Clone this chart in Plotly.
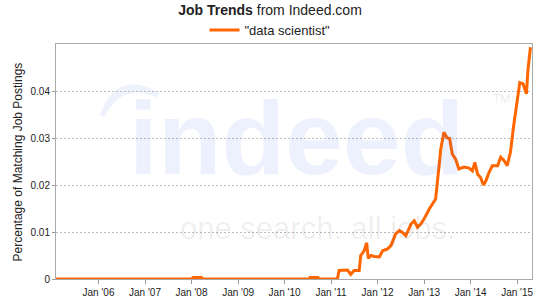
import plotly.graph_objects as go

series_name = '"data scientist"'
dates = [
    "2005-02-01", "2007-12-31", "2008-01-15", "2008-03-20", "2008-04-01",
    "2010-07-10", "2010-07-20", "2010-09-20", "2010-10-01",
    "2011-02-20", "2011-03-05", "2011-04-01", "2011-05-10", "2011-06-05",
    "2011-07-01", "2011-08-10", "2011-08-22", "2011-09-18", "2011-10-08",
    "2011-10-20", "2011-11-10", "2011-12-05", "2012-01-15", "2012-02-10",
    "2012-03-20", "2012-04-15", "2012-05-22", "2012-06-20", "2012-07-15",
    "2012-08-10", "2012-09-20", "2012-10-15", "2012-11-10", "2012-12-05",
    "2013-01-01", "2013-02-10", "2013-03-08", "2013-04-01", "2013-04-15",
    "2013-05-12", "2013-06-05", "2013-07-01", "2013-07-20", "2013-08-10",
    "2013-09-05", "2013-10-01", "2013-11-10", "2013-12-20", "2014-01-15",
    "2014-02-03", "2014-02-25", "2014-03-20", "2014-04-12", "2014-05-01",
    "2014-05-26", "2014-06-20", "2014-08-01", "2014-08-25", "2014-09-20",
    "2014-10-15", "2014-11-10", "2014-12-05", "2015-01-22", "2015-02-17",
    "2015-03-15", "2015-03-28", "2015-04-16",
]
values = [
    0, 0, 0.0003, 0.0003, 0,
    0, 0.0003, 0.0003, 0,
    0, 0.0018, 0.0019, 0.0019, 0.0010,
    0.0018, 0.0018, 0.0050, 0.0060, 0.0077,
    0.0044, 0.0050, 0.0048, 0.0047, 0.0060,
    0.0064, 0.0071, 0.0096, 0.0103, 0.0099,
    0.0092, 0.0117, 0.0124, 0.0110, 0.0117,
    0.0128, 0.0149, 0.0160, 0.0170, 0.0206,
    0.0277, 0.0312, 0.0300, 0.0299, 0.0266,
    0.0255, 0.0234, 0.0238, 0.0236, 0.0230,
    0.0248, 0.0223, 0.0216, 0.0200, 0.0209,
    0.0227, 0.0241, 0.0241, 0.0259, 0.0252,
    0.0241, 0.0270, 0.0326, 0.0418, 0.0415,
    0.0394, 0.0447, 0.0493,
]
x_tick_vals = ["2006-01-01", "2007-01-01", "2008-01-01", "2009-01-01", "2010-01-01",
               "2011-01-01", "2012-01-01", "2013-01-01", "2014-01-01", "2015-01-01"]
x_tick_text = ["Jan '06", "Jan '07", "Jan '08", "Jan '09", "Jan '10",
               "Jan '11", "Jan '12", "Jan '13", "Jan '14", "Jan '15"]
y_tick_vals = [0, 0.01, 0.02, 0.03, 0.04]
y_tick_text = ["0", "0.01", "0.02", "0.03", "0.04"]

FONT = "Liberation Sans, Arial, sans-serif"
BLUE_WM = "rgba(0,60,220,0.07)"

fig = go.Figure()
fig.add_trace(go.Scatter(
    x=dates, y=values, mode="lines", name=series_name,
    line=dict(color="#ff6600", width=3),
))

annotations = [
    dict(text="<b>indeed</b>", xref="paper", yref="paper", x=0.505, y=0.6,
         xanchor="center", yanchor="middle", showarrow=False,
         font=dict(family=FONT, size=104, color=BLUE_WM)),
    dict(text="one search. all jobs.", xref="paper", yref="paper", x=0.55, y=0.215,
         xanchor="center", yanchor="middle", showarrow=False,
         font=dict(family=FONT, size=31, color="rgba(0,0,0,0.075)")),
    dict(text="TM", xref="paper", yref="paper", x=0.935, y=0.765,
         xanchor="center", yanchor="middle", showarrow=False,
         font=dict(family=FONT, size=12, color="rgba(0,0,0,0.1)")),
    dict(text="Percentage of Matching Job Postings", xref="paper", yref="paper",
         x=-0.08, y=0.5, xanchor="center", yanchor="middle", textangle=-90,
         showarrow=False, font=dict(family=FONT, size=12, color="#222")),
]

shapes = [
    dict(type="path", xref="paper", yref="paper", layer="below",
         path="M 0.092,0.70 Q 0.13,0.90 0.218,0.79 L 0.21,0.773 Q 0.14,0.84 0.101,0.687 Z",
         fillcolor="#eef2fc", line=dict(width=0)),
]

fig.update_layout(
    width=540, height=300,
    margin=dict(l=56, r=8, t=44, b=21, autoexpand=False),
    paper_bgcolor="white", plot_bgcolor="white",
    font=dict(family=FONT, size=10, color="#222"),
    title=dict(text="<b>Job Trends</b> from Indeed.com", x=0.5, xref="container",
               y=1 - 10 / 300, yref="container", yanchor="middle", xanchor="center",
               font=dict(family=FONT, size=14, color="#222")),
    showlegend=True,
    legend=dict(orientation="h", xref="container", yref="container",
                x=0.5, xanchor="center", y=1 - 30 / 300, yanchor="middle",
                font=dict(family=FONT, size=13, color="#222"),
                bgcolor="rgba(0,0,0,0)"),
    annotations=annotations,
    shapes=shapes,
    xaxis=dict(
        type="date", range=["2005-02-01", "2015-04-28"],
        tickvals=x_tick_vals, ticktext=x_tick_text,
        ticks="outside", ticklen=4, tickcolor="#999",
        showgrid=False, zeroline=False, automargin=False,
        showline=True, linecolor="#aaa", linewidth=1, mirror=True,
        tickfont=dict(size=10, color="#222"),
    ),
    yaxis=dict(
        range=[0, 0.05], tickvals=y_tick_vals, ticktext=y_tick_text,
        ticks="outside", ticklen=3, tickcolor="#999",
        showgrid=True, gridcolor="#bbbbbb", griddash="2px,2px", gridwidth=1,
        zeroline=False, automargin=False,
        showline=True, linecolor="#aaa", linewidth=1, mirror=True,
        tickfont=dict(size=10, color="#222"),
    ),
)

fig.write_html("out.html")
